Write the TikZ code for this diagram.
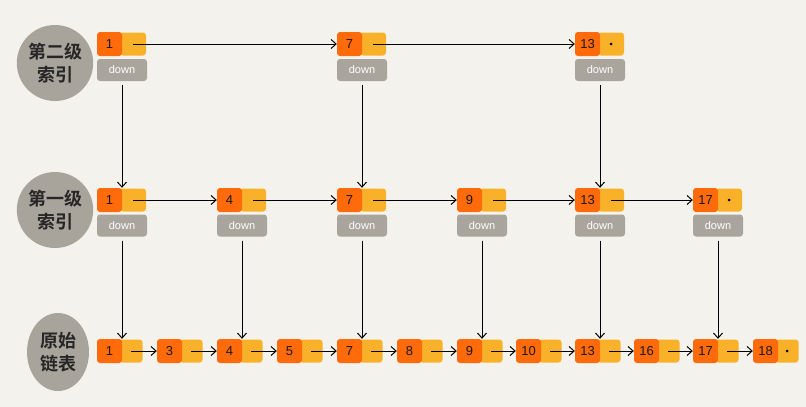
\documentclass[tikz,border=0pt]{standalone}
\usepackage{fontspec}
\newfontfamily\cjk{Noto Sans CJK SC}[BoldFont={Noto Sans CJK SC Bold}]
\setsansfont{Liberation Sans}
\usetikzlibrary{arrows.meta,shapes.geometric}

\definecolor{bgcol}{HTML}{F4F2EC}
\definecolor{keycol}{HTML}{FF6A0A}
\definecolor{ptrcol}{HTML}{F8B128}
\definecolor{downcol}{HTML}{A9A59D}
\definecolor{tagcol}{HTML}{A8A49C}

\tikzset{
  keybox/.style={rectangle,rounded corners=3pt,fill=keycol,minimum width=25pt,minimum height=24pt,inner sep=0pt,font=\sffamily\fontsize{13}{13}\selectfont,text=black!90},
  ptrbox/.style={rectangle,rounded corners=3pt,fill=ptrcol,minimum width=26pt,minimum height=23pt,inner sep=0pt},
  downbox/.style={rectangle,rounded corners=3pt,fill=downcol,minimum width=50pt,minimum height=22pt,inner sep=0pt,text=white,font=\sffamily\fontsize{11}{11}\selectfont},
  tag/.style={ellipse,fill=tagcol,minimum width=66pt,minimum height=76pt,inner sep=0pt,align=center,font=\cjk\bfseries\fontsize{18}{23}\selectfont,text=black!85},
  link/.style={-{Straight Barb[length=5pt,width=9pt]},line width=1pt},
}

\begin{document}
\begin{tikzpicture}[x=1pt,y=-1pt]
    \fill[bgcol](0,0)rectangle(806,407);
    \useasboundingbox(0,0)rectangle(806,407);

    % level tags
    \node[tag](tag2)at(55,63){第二级\\索引};
    \node[tag](tag1)at(55,210){第一级\\索引};
    \node[tag,minimum width=62pt,minimum height=78pt](tag0)at(58,352){原始\\链表};

    % second level index
    \foreach \k/\x in {1/97,7/337,13/575}{
        \node[ptrbox](t\k p)at(\x+36,44){};
        \node[keybox](t\k)at(\x+12.5,44){\k};
        \node[downbox](t\k d)at(\x+25,70){down};
    }
    \fill(t13p.center)circle(1.5pt);
    \draw[link](t1p.center)--(t7.west);
    \draw[link](t7p.center)--(t13.west);

    % first level index
    \foreach \k/\x in {1/97,4/217,7/337,9/457,13/575,17/693}{
        \node[ptrbox](m\k p)at(\x+36,200){};
        \node[keybox](m\k)at(\x+12.5,200){\k};
        \node[downbox](m\k d)at(\x+25,225.5){down};
    }
    \fill(m17p.center)circle(1.5pt);
    \foreach \a/\b in {1/4,4/7,7/9,9/13,13/17}{
        \draw[link](m\a p.center)--(m\b.west);
    }

    % original list
    \foreach \k/\x in {1/97,3/157,4/217,5/277,7/337,8/397,9/457,10/516,13/575,16/634,17/693,18/753}{
        \node[ptrbox,minimum width=23pt](b\k p)at(\x+34,351){};
        \node[keybox](b\k)at(\x+12.5,351){\k};
    }
    \fill(b18p.center)circle(1.5pt);
    \foreach \a/\b in {1/3,3/4,4/5,5/7,7/8,8/9,9/10,10/13,13/16,16/17,17/18}{
        \draw[link](b\a p.center)--(b\b.west);
    }

    % down pointers
    \foreach \k in {1,7,13}{
        \draw[link]([yshift=-4pt]t\k d.south)--(t\k d.south|-m\k.north);
    }
    \foreach \k in {1,4,7,9,13,17}{
        \draw[link]([yshift=-4pt]m\k d.south)--(m\k d.south|-b\k.north);
    }
\end{tikzpicture}
\end{document}
